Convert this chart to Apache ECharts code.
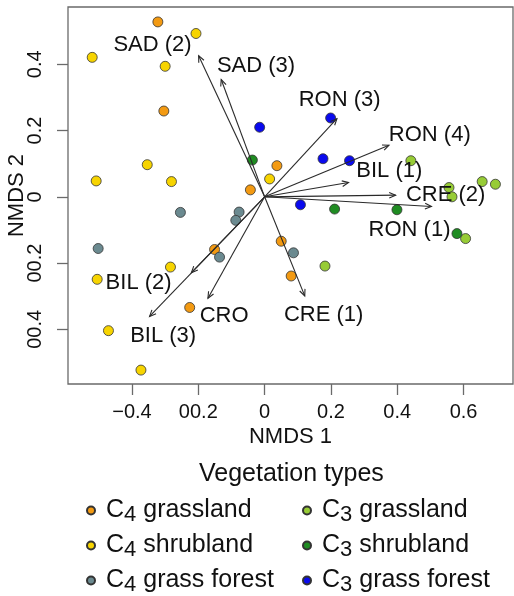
<!DOCTYPE html>
<html>
<head>
    <meta charset="utf-8">
    <script src="https://cdn.jsdelivr.net/npm/echarts@6.0.0/dist/echarts.min.js"></script>
</head>
<body style="margin:0;background:#fff">
<div id="main" style="width:514px;height:596px;"></div>
<script type="text/javascript">
    // vegetation type groups (NMDS 1, NMDS 2)
    var groupNames = ['C4 grassland', 'C4 shrubland', 'C4 grass forest', 'C3 grassland', 'C3 shrubland', 'C3 grass forest'];
    var groupColors = ['#f39a12', '#f7d400', '#6b8a90', '#97cc36', '#1f8c22', '#0a0aee'];

    var c4Grassland = [[-0.322, 0.528], [-0.304, 0.259], [-0.043, 0.021], [0.037, 0.094], [0.050, -0.134], [0.080, -0.239], [-0.151, -0.159], [-0.226, -0.334]];
    var c4Shrubland = [[-0.207, 0.493], [-0.520, 0.421], [-0.300, 0.394], [-0.354, 0.097], [-0.508, 0.048], [-0.281, 0.046], [0.015, 0.054], [-0.284, -0.212], [-0.505, -0.249], [-0.471, -0.404], [-0.373, -0.523]];
    var c4GrassForest = [[-0.254, -0.047], [-0.077, -0.046], [-0.087, -0.071], [-0.502, -0.156], [-0.136, -0.182], [0.087, -0.169]];
    var c3Grassland = [[0.441, 0.109], [0.656, 0.046], [0.696, 0.038], [0.556, 0.028], [0.565, 0.0], [0.606, -0.126], [0.182, -0.209]];
    var c3Shrubland = [[-0.037, 0.111], [0.211, -0.037], [0.399, -0.039], [0.580, -0.111]];
    var c3GrassForest = [[-0.015, 0.210], [0.199, 0.238], [0.176, 0.115], [0.256, 0.109], [0.108, -0.024]];
    var groupData = [c4Grassland, c4Shrubland, c4GrassForest, c3Grassland, c3Shrubland, c3GrassForest];

    // fitted vectors: name, arrow tip, label position
    var vecNames = ['SAD (2)', 'SAD (3)', 'RON (3)', 'RON (4)', 'BIL (1)', 'CRE (2)', 'RON (1)', 'CRE (1)', 'BIL (2)', 'BIL (3)', 'CRO'];
    var vecTips = [[-0.199, 0.426], [-0.131, 0.354], [0.218, 0.236], [0.375, 0.156], [0.253, 0.043], [0.395, 0.005], [0.503, -0.029], [0.121, -0.299], [-0.221, -0.229], [-0.347, -0.361], [-0.171, -0.306]];
    var vecLabels = [[-0.338, 0.458], [-0.026, 0.394], [0.226, 0.293], [0.498, 0.188], [0.376, 0.079], [0.546, 0.006], [0.437, -0.099], [0.178, -0.357], [-0.380, -0.261], [-0.306, -0.419], [-0.122, -0.359]];

    var xTicks = [-0.4, -0.2, 0, 0.2, 0.4, 0.6];
    var xTickLabels = ['\u22120.4', '00.2', '0', '0.2', '0.4', '0.6'];
    var yTicks = [-0.4, -0.2, 0, 0.2, 0.4];
    var yTickLabels = ['00.4', '00.2', '0', '0.2', '0.4'];

    var font = "'Liberation Sans', Arial, Helvetica, sans-serif";
    var ink = '#111';

    function tickFormatter(ticks, labels) {
        return function (v) {
            for (var i = 0; i < ticks.length; i++) {
                if (Math.abs(ticks[i] - v) < 1e-6) return labels[i];
            }
            return '';
        };
    }

    var series = groupNames.map(function (name, i) {
        return {
            name: name,
            type: 'scatter',
            data: groupData[i],
            symbolSize: 10,
            z: 2,
            itemStyle: {color: groupColors[i], borderColor: '#333', borderWidth: 0.8, opacity: 1}
        };
    });

    // arrows
    series.push({
        type: 'custom',
        z: 3,
        silent: true,
        data: vecTips,
        encode: {x: 0, y: 1},
        renderItem: function (params, api) {
            var o = api.coord([0, 0]);
            var p = api.coord([api.value(0), api.value(1)]);
            var ang = Math.atan2(p[1] - o[1], p[0] - o[0]);
            var L = 7, a = Math.PI / 7.5;
            return {
                type: 'group',
                children: [{
                    type: 'line',
                    shape: {x1: o[0], y1: o[1], x2: p[0], y2: p[1]},
                    style: {stroke: '#2a2a2a', lineWidth: 1.1}
                }, {
                    type: 'polyline',
                    shape: {
                        points: [
                            [p[0] - L * Math.cos(ang - a), p[1] - L * Math.sin(ang - a)],
                            p,
                            [p[0] - L * Math.cos(ang + a), p[1] - L * Math.sin(ang + a)]
                        ]
                    },
                    style: {stroke: '#2a2a2a', fill: null, lineWidth: 1.1}
                }]
            };
        }
    });

    // arrow labels
    series.push({
        type: 'custom',
        z: 4,
        silent: true,
        data: vecLabels,
        encode: {x: 0, y: 1},
        renderItem: function (params, api) {
            var p = api.coord([api.value(0), api.value(1)]);
            return {
                type: 'text',
                x: p[0],
                y: p[1],
                style: {
                    text: vecNames[params.dataIndex],
                    fill: ink,
                    font: '22px ' + font,
                    align: 'center',
                    verticalAlign: 'middle'
                }
            };
        }
    });

    // one legend per entry, two columns of three
    var legendLeft = [86, 86, 86, 302, 302, 302];
    var legendTop = [495, 530, 565, 495, 530, 565];
    var legends = groupNames.map(function (name, i) {
        return {
            data: [name],
            left: legendLeft[i],
            top: legendTop[i],
            padding: 0,
            icon: 'circle',
            itemWidth: 8,
            itemHeight: 8,
            formatter: function (n) {
                return n.replace(/^C(\d)/, 'C{sub|$1}');
            },
            textStyle: {
                fontFamily: font,
                fontSize: 25,
                color: ink,
                lineHeight: 26,
                padding: [0, 0, 0, 6],
                rich: {
                    sub: {fontFamily: font, fontSize: 22, lineHeight: 16, padding: [9, 0, 0, 0], color: ink}
                }
            }
        };
    });

    var myChart = echarts.init(document.getElementById('main'));
    myChart.setOption({
        animation: false,
        title: {
            text: 'Vegetation types',
            left: 199,
            top: 462,
            padding: 0,
            textStyle: {fontFamily: font, fontSize: 25, fontWeight: 'normal', color: ink}
        },
        legend: legends,
        grid: {
            left: 68,
            top: 7,
            right: 1,
            bottom: 212,
            outerBoundsMode: 'none',
            containLabel: false,
            show: true,
            borderColor: '#6a6a6a',
            borderWidth: 1.3
        },
        xAxis: {
            type: 'value',
            min: -0.593,
            max: 0.749,
            name: 'NMDS 1',
            nameLocation: 'middle',
            nameGap: 42,
            nameMoveOverlap: false,
            nameTextStyle: {fontFamily: font, fontSize: 22, color: ink},
            axisLine: {show: false, onZero: false},
            splitLine: {show: false},
            axisTick: {show: true, length: 11, customValues: xTicks, lineStyle: {color: '#6a6a6a', width: 1.3}},
            axisLabel: {
                customValues: xTicks,
                margin: 18,
                fontFamily: font,
                fontSize: 20,
                color: ink,
                formatter: tickFormatter(xTicks, xTickLabels)
            }
        },
        yAxis: {
            type: 'value',
            min: -0.565,
            max: 0.573,
            name: 'NMDS 2',
            nameLocation: 'middle',
            nameGap: 40,
            nameRotate: 90,
            nameMoveOverlap: false,
            nameTextStyle: {fontFamily: font, fontSize: 22, color: ink},
            axisLine: {show: false, onZero: false},
            splitLine: {show: false},
            axisTick: {show: true, length: 11, customValues: yTicks, lineStyle: {color: '#6a6a6a', width: 1.3}},
            axisLabel: {
                customValues: yTicks,
                rotate: 90,
                margin: 23,
                fontFamily: font,
                fontSize: 20,
                color: ink,
                formatter: tickFormatter(yTicks, yTickLabels)
            }
        },
        series: series
    });
</script>
</body>
</html>
